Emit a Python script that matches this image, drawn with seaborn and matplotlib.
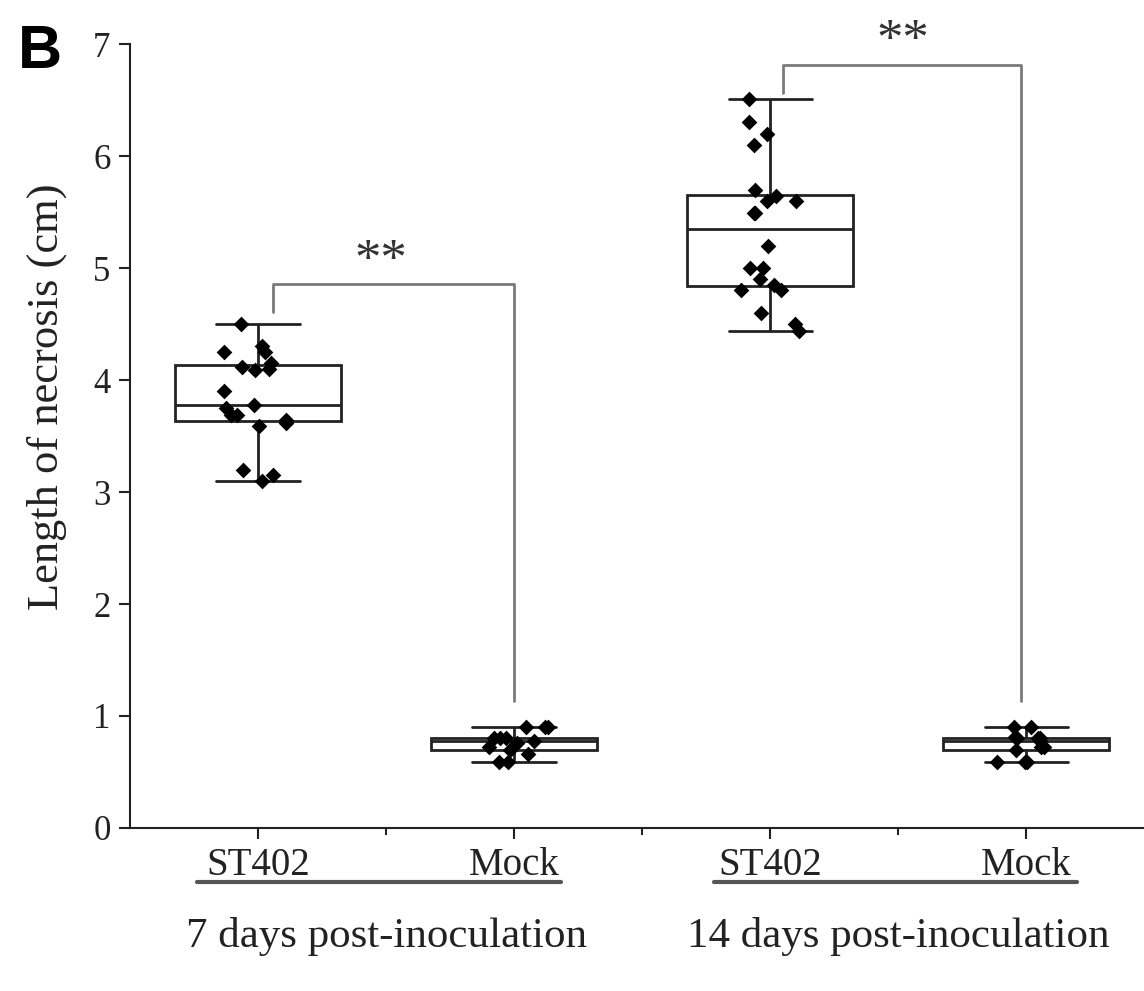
import numpy as np
import pandas as pd
import matplotlib
matplotlib.use("Agg")
import matplotlib.pyplot as plt
import seaborn as sns

# Valores (cm)
st402_7d = [3.10, 3.15, 3.20, 3.59, 3.62, 3.64, 3.69, 3.69, 3.75, 3.78,
            3.90, 4.09, 4.10, 4.12, 4.15, 4.25, 4.25, 4.30, 4.50]
mock_7d = [0.59, 0.59, 0.66, 0.70, 0.72, 0.76, 0.78, 0.80, 0.80, 0.80,
           0.90, 0.90, 0.90]
st402_14d = [4.44, 4.50, 4.60, 4.80, 4.80, 4.85, 4.90, 5.00, 5.00, 5.20,
             5.49, 5.49, 5.60, 5.60, 5.64, 5.70, 6.10, 6.20, 6.30, 6.51]
mock_14d = [0.59, 0.59, 0.59, 0.70, 0.72, 0.72, 0.78, 0.80, 0.80, 0.80,
            0.81, 0.90, 0.90]

grupos = ["ST402_7", "Mock_7", "ST402_14", "Mock_14"]
etiquetas = ["ST402", "Mock", "ST402", "Mock"]
periodos = ["7 days post-inoculation", "14 days post-inoculation"]

df = pd.DataFrame({
    "grupo": (["ST402_7"] * len(st402_7d) + ["Mock_7"] * len(mock_7d)
              + ["ST402_14"] * len(st402_14d) + ["Mock_14"] * len(mock_14d)),
    "necrosis": st402_7d + mock_7d + st402_14d + mock_14d,
})

sns.set_theme(style="white")
plt.rcParams["font.family"] = ["Liberation Serif", "DejaVu Serif"]

fig = plt.figure(figsize=(11.44, 9.91), dpi=100)
ax = fig.add_axes([0.1136, 0.1645, 0.8864, 0.791])

sns.boxplot(data=df, x="grupo", y="necrosis", order=grupos, color="white",
            linecolor="#222222", linewidth=2, width=0.65, showfliers=False,
            whis=1.5, ax=ax)
np.random.seed(3)
sns.stripplot(data=df, x="grupo", y="necrosis", order=grupos, color="black",
              marker="D", size=8, jitter=0.14, ax=ax, zorder=5)

ax.set_xlim(-0.5, 3.46)
ax.set_ylim(0, 7)
ax.set_yticks(range(8))
ax.set_xticks(range(4))
ax.set_xticks([0.5, 1.5, 2.5], minor=True)
ax.set_xticklabels(etiquetas, fontsize=28)
ax.tick_params(axis="y", labelsize=25, direction="out", length=8, width=1.5,
               left=True, pad=6, colors="#222222")
ax.tick_params(axis="x", which="major", direction="out", length=8, width=1.5,
               bottom=True, pad=6, colors="#222222")
ax.tick_params(axis="x", which="minor", direction="out", length=5, width=1.5,
               bottom=True)
ax.set_xlabel("")
ax.set_ylabel("Length of necrosis (cm)", fontsize=32, color="#222222")
ax.yaxis.set_label_coords(-0.062, 0.55)
for s in ["top", "right"]:
    ax.spines[s].set_visible(False)
for s in ["left", "bottom"]:
    ax.spines[s].set_color("#222222")
    ax.spines[s].set_linewidth(1.5)

# Corchetes de significancia
gris = "#7a7a7a"
ax.plot([0.06, 0.06, 1.0, 1.0], [4.61, 4.86, 4.86, 1.13], color=gris, lw=2)
ax.text(0.48, 4.84, "**", ha="center", va="bottom", fontsize=38, color="#333333")
ax.plot([2.05, 2.05, 2.98, 2.98], [6.56, 6.81, 6.81, 1.13], color=gris,
        lw=2, clip_on=False)
ax.text(2.52, 6.80, "**", ha="center", va="bottom", fontsize=38,
        color="#333333", clip_on=False)

# Líneas y títulos de los grupos
tr = ax.get_xaxis_transform()
ax.plot([-0.24, 1.185], [-0.069, -0.069], color="#555555", lw=3,
        transform=tr, clip_on=False)
ax.plot([1.78, 3.20], [-0.069, -0.069], color="#555555", lw=3,
        transform=tr, clip_on=False)
ax.text(0.5, -0.139, periodos[0], transform=tr, ha="center", va="center",
        fontsize=31, color="#222222")
ax.text(2.5, -0.139, periodos[1], transform=tr, ha="center", va="center",
        fontsize=31, color="#222222")

fig.text(0.035, 0.947, "B", fontsize=44, fontweight="bold",
         family="Liberation Sans", ha="center", va="center", color="black")

fig.savefig("out.png", dpi=100)
